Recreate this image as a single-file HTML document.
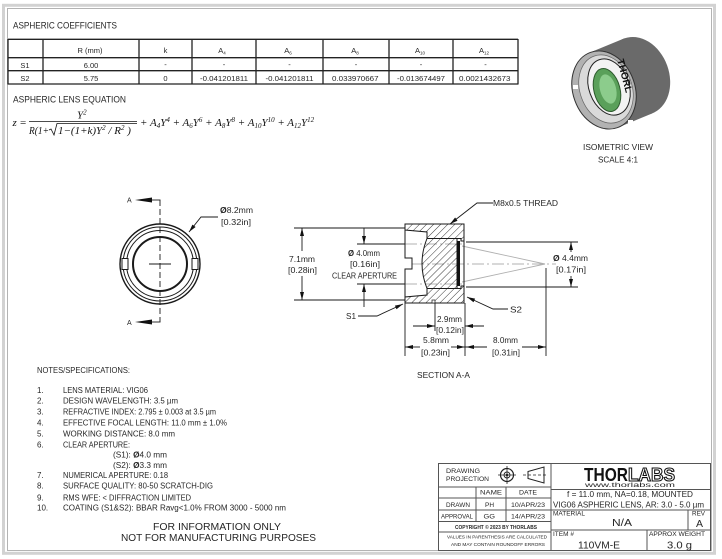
<!DOCTYPE html>
<html><head><meta charset="utf-8"><style>
html,body{margin:0;padding:0;background:#fff;}
svg{display:block;}
text{font-family:"Liberation Sans",sans-serif;fill:#262626;}
.m{font-family:"Liberation Serif",serif;font-style:italic;fill:#111;}
</style></head><body>
<svg width="722" height="559" viewBox="0 0 722 559" xmlns="http://www.w3.org/2000/svg">
<defs>
<pattern id="h" width="5" height="5" patternUnits="userSpaceOnUse" patternTransform="rotate(45)">
<line x1="0" y1="0" x2="0" y2="5" stroke="#222" stroke-width="0.9"/>
</pattern>
</defs>
<rect width="722" height="559" fill="#fff"/>
<!-- page frame -->
<rect x="3.5" y="5.3" width="711" height="548" fill="none" stroke="#d2d2d2" stroke-width="3"/>
<rect x="7.5" y="8.5" width="704" height="542" fill="#fff" stroke="#b3b3b3" stroke-width="1"/>

<!-- ASPHERIC COEFFICIENTS -->
<text x="13" y="28.5" font-size="9" textLength="104" lengthAdjust="spacingAndGlyphs">ASPHERIC COEFFICIENTS</text>
<g stroke="#222" stroke-width="1.3">
<line x1="8" y1="39.3" x2="518" y2="39.3"/>
<line x1="8" y1="57.7" x2="518" y2="57.7"/>
<line x1="8" y1="70.7" x2="518" y2="70.7"/>
<line x1="8" y1="84" x2="518" y2="84"/>
<line x1="8" y1="39" x2="8" y2="84.5"/>
<line x1="43" y1="39" x2="43" y2="84.5"/>
<line x1="139" y1="39" x2="139" y2="84.5"/>
<line x1="192" y1="39" x2="192" y2="84.5"/>
<line x1="256" y1="39" x2="256" y2="84.5"/>
<line x1="323" y1="39" x2="323" y2="84.5"/>
<line x1="389" y1="39" x2="389" y2="84.5"/>
<line x1="453" y1="39" x2="453" y2="84.5"/>
<line x1="518" y1="39" x2="518" y2="84.5"/>
</g>
<g font-size="7.5" text-anchor="middle">
<text x="90" y="53">R (mm)</text>
<text x="165.5" y="53">k</text>
<text x="222" y="53">A<tspan font-size="4.5" dy="1.5">4</tspan></text>
<text x="288" y="53">A<tspan font-size="4.5" dy="1.5">6</tspan></text>
<text x="355" y="53">A<tspan font-size="4.5" dy="1.5">8</tspan></text>
<text x="420" y="53">A<tspan font-size="4.5" dy="1.5">10</tspan></text>
<text x="484" y="53">A<tspan font-size="4.5" dy="1.5">12</tspan></text>
<text x="25" y="68">S1</text>
<text x="91" y="68">6.00</text>
<text x="165.5" y="67">-</text>
<text x="224" y="67">-</text>
<text x="289.5" y="67">-</text>
<text x="356" y="67">-</text>
<text x="421" y="67">-</text>
<text x="485.5" y="67">-</text>
<text x="25" y="81">S2</text>
<text x="91" y="81">5.75</text>
<text x="165.5" y="81">0</text>
</g>
<g font-size="7.5">
<text x="200" y="81" textLength="48" lengthAdjust="spacingAndGlyphs">-0.041201811</text>
<text x="265.5" y="81" textLength="48" lengthAdjust="spacingAndGlyphs">-0.041201811</text>
<text x="332" y="81" textLength="46.5" lengthAdjust="spacingAndGlyphs">0.033970667</text>
<text x="397" y="81" textLength="48" lengthAdjust="spacingAndGlyphs">-0.013674497</text>
<text x="459" y="81" textLength="51.5" lengthAdjust="spacingAndGlyphs">0.0021432673</text>
</g>

<!-- ASPHERIC LENS EQUATION -->
<text x="13" y="102.5" font-size="9" textLength="113" lengthAdjust="spacingAndGlyphs">ASPHERIC LENS EQUATION</text>
<text class="m" x="12.5" y="126" font-size="11">z</text>
<text x="20" y="126" font-size="11" style="font-family:'Liberation Serif',serif;fill:#111">=</text>
<text class="m" x="77" y="118.5" font-size="11">Y<tspan font-size="7" dy="-4">2</tspan></text>
<line x1="29" y1="121.5" x2="137" y2="121.5" stroke="#111" stroke-width="0.8"/>
<text class="m" x="29" y="134" font-size="11" textLength="20" lengthAdjust="spacingAndGlyphs">R(1+</text>
<polyline points="49,130 51,129 54,135 57,123.5 137,123.5" fill="none" stroke="#111" stroke-width="0.8"/>
<text class="m" x="58" y="134" font-size="11">1−(1+k)Y<tspan font-size="7" dy="-4">2</tspan><tspan dy="4"> / R</tspan><tspan font-size="7" dy="-4">2</tspan><tspan dy="4"> )</tspan></text>
<text class="m" x="140" y="126" font-size="11">+ A<tspan font-size="7" dy="2">4</tspan><tspan dy="-2">Y</tspan><tspan font-size="7" dy="-4">4</tspan><tspan dy="4"> + A</tspan><tspan font-size="7" dy="2">6</tspan><tspan dy="-2">Y</tspan><tspan font-size="7" dy="-4">6</tspan><tspan dy="4"> + A</tspan><tspan font-size="7" dy="2">8</tspan><tspan dy="-2">Y</tspan><tspan font-size="7" dy="-4">8</tspan><tspan dy="4"> + A</tspan><tspan font-size="7" dy="2">10</tspan><tspan dy="-2">Y</tspan><tspan font-size="7" dy="-4">10</tspan><tspan dy="4"> + A</tspan><tspan font-size="7" dy="2">12</tspan><tspan dy="-2">Y</tspan><tspan font-size="7" dy="-4">12</tspan></text>

<!-- ISOMETRIC VIEW -->
<g>
<ellipse cx="638" cy="76" rx="31" ry="40" transform="rotate(-20 638 76)" fill="#6a6a6a"/>
<polygon points="590.3,52.4 624.3,38.4 651.7,113.6 617.7,127.6" fill="#6a6a6a"/>
<ellipse cx="604" cy="90" rx="31" ry="40" transform="rotate(-20 604 90)" fill="#b2b2b2" stroke="#333" stroke-width="1"/>
<ellipse cx="606" cy="89" rx="26" ry="35" transform="rotate(-20 606 89)" fill="#dadada" stroke="#666" stroke-width="0.7"/>
<ellipse cx="609" cy="87" rx="20" ry="29" transform="rotate(-20 609 87)" fill="#f3f3f3" stroke="#222" stroke-width="1"/>
<ellipse cx="607" cy="90" rx="13" ry="22" transform="rotate(-15 607 90)" fill="#5aa05a" stroke="#2d5a2d" stroke-width="1"/>
<ellipse cx="608" cy="89" rx="8" ry="15" transform="rotate(-15 608 89)" fill="#8ccc8c"/>
<rect x="573" y="85" width="5" height="4" fill="#fff"/>
<rect x="628" y="120" width="5" height="4" fill="#fff"/>
<text transform="translate(617,60) rotate(75)" font-size="10" font-weight="bold" style="fill:#111">THORL</text>
</g>
<text x="583" y="150" font-size="8" textLength="70" lengthAdjust="spacingAndGlyphs">ISOMETRIC VIEW</text>
<text x="598" y="162.5" font-size="8" textLength="40" lengthAdjust="spacingAndGlyphs">SCALE 4:1</text>

<!-- FRONT VIEW -->
<g fill="none" stroke="#1a1a1a">
<circle cx="160" cy="264" r="40" stroke-width="1.4"/>
<circle cx="160" cy="264" r="37" stroke-width="1"/>
<circle cx="160" cy="264" r="33.5" stroke-width="1"/>
<circle cx="160" cy="264" r="27" stroke-width="2"/>
</g>
<rect x="122" y="258.5" width="6" height="11" fill="#fff" stroke="#1a1a1a" stroke-width="1"/>
<rect x="192" y="258.5" width="6" height="11" fill="#fff" stroke="#1a1a1a" stroke-width="1"/>
<g stroke="#1a1a1a" stroke-width="0.9">
<line x1="149" y1="264" x2="171" y2="264"/>
<line x1="160" y1="200" x2="160" y2="322" stroke-dasharray="6,3"/>
<line x1="150" y1="200" x2="160.5" y2="200"/>
<line x1="150" y1="322" x2="160.5" y2="322"/>
<polyline points="189,232 201,217 218,217" fill="none"/>
</g>
<polygon points="135,200 152,197.5 152,202.5" fill="#111"/>
<polygon points="135,322 152,319.5 152,324.5" fill="#111"/>
<polygon points="189,232 195.6,227 192.4,224.6" fill="#111"/>
<text x="127" y="202.5" font-size="7">A</text>
<text x="127" y="325" font-size="7">A</text>
<text x="220" y="213" font-size="8" textLength="33" lengthAdjust="spacingAndGlyphs"><tspan font-weight="bold">Ø</tspan>8.2mm</text>
<text x="221" y="225" font-size="8" textLength="30" lengthAdjust="spacingAndGlyphs">[0.32in]</text>

<!-- SECTION VIEW -->
<g stroke="#b0b0b0" stroke-width="0.9" fill="none">
<line x1="412" y1="264" x2="556" y2="264" stroke-dasharray="12,3,2,3"/>
<line x1="405" y1="244" x2="462" y2="244" stroke-dasharray="12,3,2,3"/>
<line x1="405" y1="284" x2="462" y2="284" stroke-dasharray="12,3,2,3"/>
<line x1="462" y1="246" x2="545" y2="264"/>
<line x1="462" y1="282" x2="545" y2="264"/>
</g>
<path d="M405,224 L464,224 L464,241 L461,241 L461,238.5 L427,238.5 L427,232 L405,230 Z" fill="url(#h)" stroke="#1a1a1a" stroke-width="1"/>
<path d="M405,303 L464,303 L464,286 L461,286 L461,288.5 L427,288.5 L427,295 L405,297 Z" fill="url(#h)" stroke="#1a1a1a" stroke-width="1"/>
<path d="M427,238.5 L457,238.5 L457,288.5 L427,288.5 Q417,263.5 427,238.5 Z" fill="url(#h)" stroke="#1a1a1a" stroke-width="1"/>
<rect x="457" y="241" width="3" height="45" fill="#111"/>
<polyline points="405,230 405,258 412,258 412,269 405,269 405,297" fill="none" stroke="#1a1a1a" stroke-width="1"/>
<line x1="464" y1="241" x2="464" y2="286" stroke="#1a1a1a" stroke-width="1"/>
<rect x="432" y="300" width="3" height="3" fill="#fff" stroke="#1a1a1a" stroke-width="0.7"/>
<g stroke="#1a1a1a" stroke-width="0.9" fill="none">
<line x1="294" y1="228" x2="405" y2="228"/>
<line x1="294" y1="300" x2="405" y2="300"/>
<line x1="302" y1="228" x2="302" y2="251"/>
<line x1="302" y1="276" x2="302" y2="300"/>
<line x1="357" y1="244" x2="405" y2="244"/>
<line x1="357" y1="284" x2="405" y2="284"/>
<line x1="364" y1="228" x2="364" y2="244"/>
<line x1="364" y1="284" x2="364" y2="307"/>
<line x1="466" y1="242" x2="578" y2="242"/>
<line x1="466" y1="287" x2="578" y2="287"/>
<line x1="571" y1="242" x2="571" y2="252"/>
<line x1="571" y1="276" x2="571" y2="287"/>
<polyline points="450,224 477,203 493,203"/>
<polyline points="403,304 377,316 358,316"/>
<polyline points="467,297 493,309 508,309"/>
<line x1="405" y1="303" x2="405" y2="356"/>
<line x1="435" y1="303" x2="435" y2="331"/>
<line x1="465" y1="303" x2="465" y2="356"/>
<line x1="546" y1="268" x2="546" y2="356"/>
<line x1="413" y1="326" x2="435" y2="326"/>
<line x1="465" y1="326" x2="484" y2="326"/>
<line x1="405" y1="347" x2="420" y2="347"/>
<line x1="451" y1="347" x2="465" y2="347"/>
<line x1="465" y1="347" x2="487" y2="347"/>
<line x1="522" y1="347" x2="546" y2="347"/>
</g>
<g fill="#111">
<polygon points="302,228 300,236 304,236"/>
<polygon points="302,300 300,292 304,292"/>
<polygon points="364,244 362,236 366,236"/>
<polygon points="364,284 362,292 366,292"/>
<polygon points="571,242 569,250 573,250"/>
<polygon points="571,287 569,279 573,279"/>
<polygon points="450,224 457.5,220.7 455.1,217.5"/>
<polygon points="403,304 396.5,309.2 394.9,305.6"/>
<polygon points="467,297 473.5,302.2 475.1,298.6"/>
<polygon points="435,326 427,324 427,328"/>
<polygon points="465,326 473,324 473,328"/>
<polygon points="405,347 413,345 413,349"/>
<polygon points="465,347 457,345 457,349"/>
<polygon points="466,347 474,345 474,349"/>
<polygon points="546,347 538,345 538,349"/>
</g>
<g font-size="8">
<text x="289" y="262" textLength="26" lengthAdjust="spacingAndGlyphs">7.1mm</text>
<text x="288" y="273" textLength="29" lengthAdjust="spacingAndGlyphs">[0.28in]</text>
<text x="348" y="256" textLength="32" lengthAdjust="spacingAndGlyphs"><tspan font-weight="bold">Ø</tspan> 4.0mm</text>
<text x="350" y="267" textLength="30" lengthAdjust="spacingAndGlyphs">[0.16in]</text>
<text x="332" y="278.5" textLength="65" lengthAdjust="spacingAndGlyphs">CLEAR APERTURE</text>
<text x="493" y="206" textLength="65" lengthAdjust="spacingAndGlyphs">M8x0.5 THREAD</text>
<text x="553" y="261" textLength="35" lengthAdjust="spacingAndGlyphs"><tspan font-weight="bold">Ø</tspan> 4.4mm</text>
<text x="556" y="272.5" textLength="30" lengthAdjust="spacingAndGlyphs">[0.17in]</text>
<text x="346" y="319" textLength="10" lengthAdjust="spacingAndGlyphs">S1</text>
<text x="510" y="312.5" textLength="12" lengthAdjust="spacingAndGlyphs">S2</text>
<text x="437" y="322" textLength="25" lengthAdjust="spacingAndGlyphs">2.9mm</text>
<text x="436" y="333" textLength="28" lengthAdjust="spacingAndGlyphs">[0.12in]</text>
<text x="423" y="343" textLength="26" lengthAdjust="spacingAndGlyphs">5.8mm</text>
<text x="421" y="355.5" textLength="29" lengthAdjust="spacingAndGlyphs">[0.23in]</text>
<text x="493" y="343" textLength="25" lengthAdjust="spacingAndGlyphs">8.0mm</text>
<text x="492" y="355.5" textLength="28" lengthAdjust="spacingAndGlyphs">[0.31in]</text>
<text x="417" y="378" textLength="53" lengthAdjust="spacingAndGlyphs">SECTION A-A</text>
</g>

<!-- NOTES -->
<g font-size="8">
<text x="37" y="373" textLength="93" lengthAdjust="spacingAndGlyphs">NOTES/SPECIFICATIONS:</text>
<text x="37" y="393">1.</text><text x="63" y="393" textLength="85" lengthAdjust="spacingAndGlyphs">LENS MATERIAL: VIG06</text>
<text x="37" y="403.7">2.</text><text x="63" y="403.7" textLength="115" lengthAdjust="spacingAndGlyphs">DESIGN WAVELENGTH: 3.5 µm</text>
<text x="37" y="414.7">3.</text><text x="63" y="414.7" textLength="153" lengthAdjust="spacingAndGlyphs">REFRACTIVE INDEX: 2.795 ± 0.003 at 3.5 µm</text>
<text x="37" y="425.3">4.</text><text x="63" y="425.3" textLength="164" lengthAdjust="spacingAndGlyphs">EFFECTIVE FOCAL LENGTH: 11.0 mm ± 1.0%</text>
<text x="37" y="436.7">5.</text><text x="63" y="436.7" textLength="112" lengthAdjust="spacingAndGlyphs">WORKING DISTANCE: 8.0 mm</text>
<text x="37" y="447.3">6.</text><text x="63" y="447.3" textLength="67" lengthAdjust="spacingAndGlyphs">CLEAR APERTURE:</text>
<text x="113" y="457.3" textLength="54" lengthAdjust="spacingAndGlyphs">(S1): <tspan font-weight="bold">Ø</tspan>4.0 mm</text>
<text x="113" y="468" textLength="54" lengthAdjust="spacingAndGlyphs">(S2): <tspan font-weight="bold">Ø</tspan>3.3 mm</text>
<text x="37" y="478">7.</text><text x="63" y="478" textLength="105" lengthAdjust="spacingAndGlyphs">NUMERICAL APERTURE: 0.18</text>
<text x="37" y="488.7">8.</text><text x="63" y="488.7" textLength="150" lengthAdjust="spacingAndGlyphs">SURFACE QUALITY: 80-50 SCRATCH-DIG</text>
<text x="37" y="500.3">9.</text><text x="63" y="500.3" textLength="128" lengthAdjust="spacingAndGlyphs">RMS WFE: &lt; DIFFRACTION LIMITED</text>
<text x="37" y="510.7">10.</text><text x="63" y="510.7" textLength="223" lengthAdjust="spacingAndGlyphs">COATING (S1&amp;S2): BBAR Ravg&lt;1.0% FROM 3000 - 5000 nm</text>
</g>
<text x="153" y="530" font-size="10.5" textLength="128" lengthAdjust="spacingAndGlyphs">FOR INFORMATION ONLY</text>
<text x="121" y="541" font-size="10.5" textLength="195" lengthAdjust="spacingAndGlyphs">NOT FOR MANUFACTURING PURPOSES</text>

<!-- TITLE BLOCK -->
<rect x="438.5" y="463.5" width="272" height="87" fill="#fff" stroke="#555" stroke-width="1"/>
<g stroke="#555" stroke-width="1">
<line x1="551" y1="463.5" x2="551" y2="550.5"/>
<line x1="438.5" y1="487" x2="551" y2="487"/>
<line x1="438.5" y1="498" x2="551" y2="498"/>
<line x1="438.5" y1="510" x2="710.5" y2="510"/>
<line x1="438.5" y1="521.5" x2="551" y2="521.5"/>
<line x1="438.5" y1="532" x2="551" y2="532"/>
<line x1="476" y1="487" x2="476" y2="521.5"/>
<line x1="506" y1="487" x2="506" y2="521.5"/>
<line x1="551" y1="489.5" x2="710.5" y2="489.5"/>
<line x1="551" y1="530" x2="710.5" y2="530"/>
<line x1="688" y1="510" x2="688" y2="530"/>
<line x1="647" y1="530" x2="647" y2="550.5"/>
</g>
<g stroke="#222" fill="none">
<circle cx="507" cy="475" r="6.5" stroke-width="1.2"/>
<circle cx="507" cy="475" r="3" stroke-width="0.9"/>
<line x1="498" y1="475" x2="516" y2="475" stroke-width="0.8"/>
<line x1="507" y1="466" x2="507" y2="484" stroke-width="0.8"/>
<polygon points="528,471.5 528,478.5 544,483 544,467" stroke-width="1"/>
<line x1="523" y1="475" x2="548" y2="475" stroke-width="0.8" stroke-dasharray="3,2"/>
</g>
<circle cx="507" cy="475" r="1.3" fill="#222"/>
<g font-size="6.5">
<text x="446" y="473" textLength="34" lengthAdjust="spacingAndGlyphs">DRAWING</text>
<text x="446" y="481" textLength="43" lengthAdjust="spacingAndGlyphs">PROJECTION</text>
<text x="480" y="494.5" textLength="22" lengthAdjust="spacingAndGlyphs">NAME</text>
<text x="519" y="494.5" textLength="18" lengthAdjust="spacingAndGlyphs">DATE</text>
</g>
<g font-size="6">
<text x="446" y="507" textLength="24" lengthAdjust="spacingAndGlyphs">DRAWN</text>
<text x="485" y="507" textLength="9" lengthAdjust="spacingAndGlyphs">PH</text>
<text x="511" y="507" textLength="34" lengthAdjust="spacingAndGlyphs">10/APR/23</text>
<text x="441" y="518.5" textLength="32" lengthAdjust="spacingAndGlyphs">APPROVAL</text>
<text x="483.5" y="518.5" textLength="11.5" lengthAdjust="spacingAndGlyphs">GG</text>
<text x="511" y="518.5" textLength="34" lengthAdjust="spacingAndGlyphs">14/APR/23</text>
</g>
<text x="455" y="529" font-size="5" font-weight="bold" textLength="82" lengthAdjust="spacingAndGlyphs">COPYRIGHT © 2023 BY THORLABS</text>
<text x="447" y="538.5" font-size="4.8" textLength="100" lengthAdjust="spacingAndGlyphs">VALUES IN PARENTHESIS ARE CALCULATED</text>
<text x="451" y="546" font-size="4.8" textLength="94" lengthAdjust="spacingAndGlyphs">AND MAY CONTAIN ROUNDOFF ERRORS</text>
<text x="584" y="481" font-size="18" font-weight="bold" textLength="44" lengthAdjust="spacingAndGlyphs" style="fill:#111">THOR</text>
<text x="628" y="481" font-size="18" font-weight="bold" textLength="47" lengthAdjust="spacingAndGlyphs" style="fill:#fff;stroke:#111;stroke-width:1.1">LABS</text>
<text x="585" y="487" font-size="6.5" textLength="90" lengthAdjust="spacingAndGlyphs">www.thorlabs.com</text>
<text x="567" y="497" font-size="8" textLength="126" lengthAdjust="spacingAndGlyphs">f = 11.0 mm, NA=0.18, MOUNTED</text>
<text x="553" y="507.5" font-size="8" textLength="151" lengthAdjust="spacingAndGlyphs">VIG06 ASPHERIC LENS, AR: 3.0 - 5.0 µm</text>
<text x="553" y="515.5" font-size="6" textLength="32" lengthAdjust="spacingAndGlyphs">MATERIAL</text>
<text x="612" y="526" font-size="10" textLength="20" lengthAdjust="spacingAndGlyphs">N/A</text>
<text x="692" y="515.5" font-size="6" textLength="13" lengthAdjust="spacingAndGlyphs">REV</text>
<text x="696" y="527" font-size="10" textLength="7" lengthAdjust="spacingAndGlyphs">A</text>
<text x="553" y="536" font-size="6" textLength="21" lengthAdjust="spacingAndGlyphs">ITEM #</text>
<text x="578" y="548.5" font-size="10" textLength="42" lengthAdjust="spacingAndGlyphs">110VM-E</text>
<text x="649" y="536" font-size="6" textLength="56" lengthAdjust="spacingAndGlyphs">APPROX WEIGHT</text>
<text x="667" y="548.5" font-size="10" textLength="25" lengthAdjust="spacingAndGlyphs">3.0 g</text>
</svg>
</body></html>
